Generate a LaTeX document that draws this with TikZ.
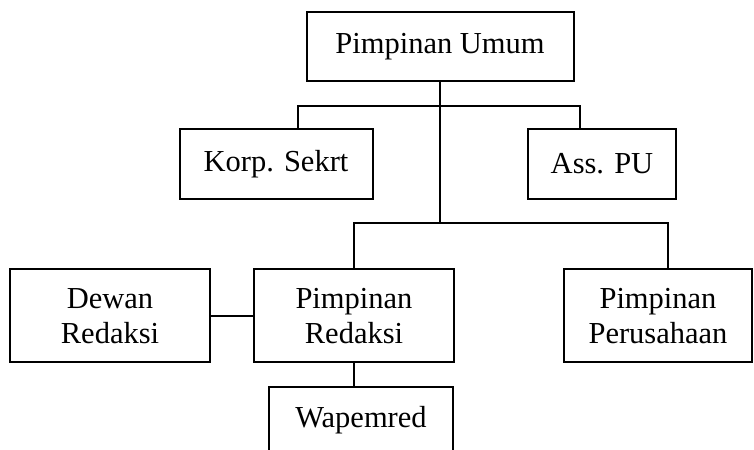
\documentclass[tikz,border=0pt]{standalone}
\usepackage{fontspec}
\setmainfont{Liberation Serif}
\usetikzlibrary{positioning}

\begin{document}
\begin{tikzpicture}[x=0.4pt,y=-0.4pt,line width=0.8pt,
  kotak/.style={draw,rectangle,inner sep=0pt,align=center,font=\fontsize{12.2}{14}\selectfont}]
\useasboundingbox (0,0) rectangle (754,450);
\node[kotak,minimum width=106.8pt,minimum height=27.6pt] (pu) at (440,47) {Pimpinan Umum};
\node[kotak,minimum width=77.2pt,minimum height=28pt] (ks) at (276,164) {Korp. Sekrt};
\node[kotak,minimum width=59.2pt,minimum height=28pt] (ap) at (602,164) {Ass. PU};
\node[kotak,minimum width=80pt,minimum height=37.2pt] (dr) at (110,316) {Dewan\\Redaksi};
\node[kotak,minimum width=80pt,minimum height=37.2pt] (pr) at (354,316) {Pimpinan\\Redaksi};
\node[kotak,minimum width=75.2pt,minimum height=37.2pt] (pp) at (658,316) {Pimpinan\\Perusahaan};
\node[kotak,minimum width=73.6pt,minimum height=26.4pt] (wp) at (361,420) {Wapemred};
\coordinate (atas) at (440,106);
\coordinate (tengah) at (440,223);

\path
(pu) edge[-] (tengah)
(dr) edge[-] (pr)
(pr.south) edge[-] (pr.south |- wp.north);
\draw ([xshift=8.8pt]ks.north) |- (atas) -| ([xshift=-8.8pt]ap.north);
\draw (pr.north) |- (tengah) -| ([xshift=4pt]pp.north);
\end{tikzpicture}
\end{document}
